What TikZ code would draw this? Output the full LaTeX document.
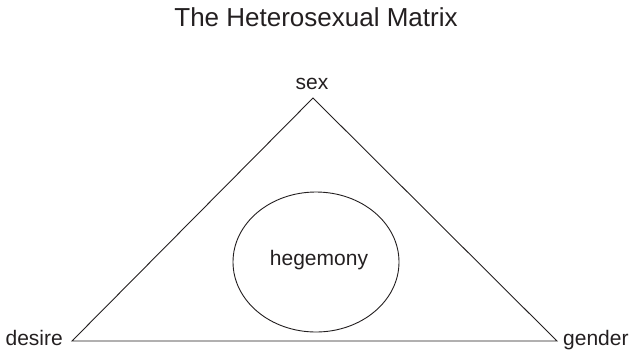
\documentclass[tikz,border=0pt]{standalone}
\usepackage{fontspec}
\setmainfont{Liberation Sans}
\usetikzlibrary{shapes.geometric}
\definecolor{ink}{HTML}{231F20}
\begin{document}
\begin{tikzpicture}[x=1bp,y=-1bp,
  lbl/.style={inner sep=0pt, text=ink, font=\fontsize{21bp}{24bp}\selectfont},
  ttl/.style={inner sep=0pt, text=ink, font=\fontsize{26bp}{30bp}\selectfont},
  edge/.style={draw=ink, line width=0.9bp, line join=miter}]
\useasboundingbox (0,0) rectangle (630,351);
\coordinate (top) at (313,98);
\coordinate (left) at (72,341);
\coordinate (right) at (557,341);
\node[ttl, anchor=base] (title) at (316,26) {The Heterosexual Matrix};
\node[lbl, anchor=base] (sex) at (312,89) {sex};
\node[lbl, anchor=base east] (desire) at (63,345) {desire};
\node[lbl, anchor=base west] (gender) at (563,345) {gender};
\draw[edge] (top) -- (left) -- (right) -- cycle;
\node[edge, ellipse, minimum width=166bp, minimum height=140bp, inner sep=0pt] (heg) at (316,262) {};
\node[lbl, anchor=base] (hegt) at (319,265) {hegemony};
\end{tikzpicture}
\end{document}
